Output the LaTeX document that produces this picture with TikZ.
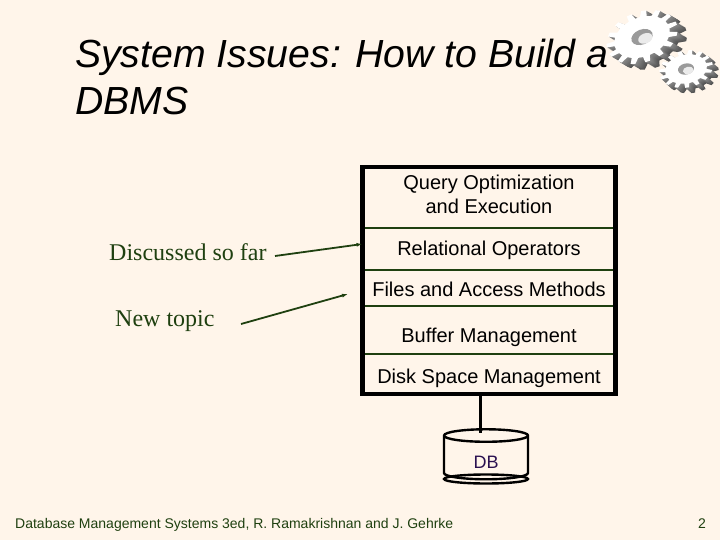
\documentclass[tikz,border=0pt]{standalone}
\usepackage{fontspec}
\setmainfont{Liberation Sans}
\newfontfamily\serifface{Liberation Serif}
\usetikzlibrary{arrows.meta,positioning,fit,shapes.geometric}
\definecolor{paper}{HTML}{FFF5EA}
\definecolor{ink}{HTML}{000000}
\definecolor{rule}{HTML}{1F4010}
\definecolor{plum}{HTML}{2A1050}
\definecolor{gearside}{HTML}{8C8C8C}
\definecolor{gearhole}{HTML}{9A9A9A}
\tikzset{
  >=Latex,
  every node/.style={text=ink,inner sep=0pt},
  layer/.style={draw=rule,line width=1.3pt,outer sep=0pt,minimum width=253pt,align=center,font=\fontsize{20}{24}\selectfont},
  lift/.style={text height=#1,text depth=0pt},
  frame/.style={draw=black,line width=4.6pt,inner sep=0pt,outer sep=0pt},
  titletext/.style={anchor=base west,font=\fontsize{39.2}{39}\selectfont\itshape},
  topic/.style={anchor=base west,text=rule,font=\fontsize{24}{24}\selectfont\serifface},
  foot/.style={anchor=base west,text=rule,font=\fontsize{14}{16}\selectfont},
  arrow/.style={-{Latex[length=6pt,width=4pt]},line width=1.8pt,draw=rule},
  stem/.style={draw=black,line width=3pt},
  disk/.style={cylinder,draw=black,line width=2.4pt,shape border rotate=90,aspect=.5,minimum width=84pt,minimum height=50pt,text=plum,font=\fontsize{18}{18}\selectfont},
  gear/.pic={
    \foreach \d in {10,9,...,1}
      \fill[gearside!\the\numexpr 100-\d*4\relax!black,shift={(.018*\d,.035*\d)}] (-7:.78)
        \foreach \a in {0,24,...,336} {-- (\a-7:.78) -- (\a-4:1) -- (\a+4:1) -- (\a+7:.78) -- (\a+17:.78)} -- cycle;
    \fill[white] (-7:.78)
      \foreach \a in {0,24,...,336} {-- (\a-7:.78) -- (\a-4:1) -- (\a+4:1) -- (\a+7:.78) -- (\a+17:.78)} -- cycle;
    \fill[gearhole] (0,0) circle (.3);
    \fill[white!80!gearhole] (.07,.1) circle (.2);
  },
}
\begin{document}
\begin{tikzpicture}[x=1pt,y=-1pt]
\useasboundingbox[fill=paper] (0,0) rectangle (720,540);

\node[titletext] (title1) at (75,68) {System Issues: How to Build a};
\node[titletext] (title2) at (75,115) {DBMS};

% gears
\pic[rotate=22,xscale=37,yscale=25] at (642,37) {gear};
\pic[rotate=12,xscale=27,yscale=18.5] at (686,69) {gear};

% layers
\node[layer,minimum height=61pt,text depth=7pt] (query) at (489,197.5) {Query Optimization\\and Execution};
\node[layer,minimum height=42pt,below=0pt of query,lift=12pt] (relop) {Relational Operators};
\node[layer,minimum height=36pt,below=0pt of relop,lift=16pt] (files) {Files and Access Methods};
\node[layer,minimum height=48pt,below=0pt of files,lift=24pt] (buffer) {Buffer Management};
\node[layer,minimum height=40pt,below=0pt of buffer,lift=18pt] (space) {Disk Space Management};
\node[frame,fit=(query)(space)] (stack) {};

% disk
\node[disk,text height=21pt,text depth=0pt] (db) at (486,458) {DB};
\draw[black,line width=2.4pt] (486,479) ellipse (42 and 4.5);
\coordinate (dbtop) at (480,433);
\draw[stem] (stack.south -| dbtop) -- (dbtop);

% labels and arrows
\node[topic] (sofar) at (109,260) {Discussed so far};
\node[topic] (newtopic) at (115,326) {New topic};
\coordinate (newend) at (348,294);
\draw[arrow] (275,256) -- (relop.west |- 0,244);
\draw[arrow] (241,324) -- (newend);

\node[foot] (source) at (15,528) {Database Management Systems 3ed, R. Ramakrishnan and J. Gehrke};
\node[foot] (page) at (698,528) {2};
\end{tikzpicture}
\end{document}
